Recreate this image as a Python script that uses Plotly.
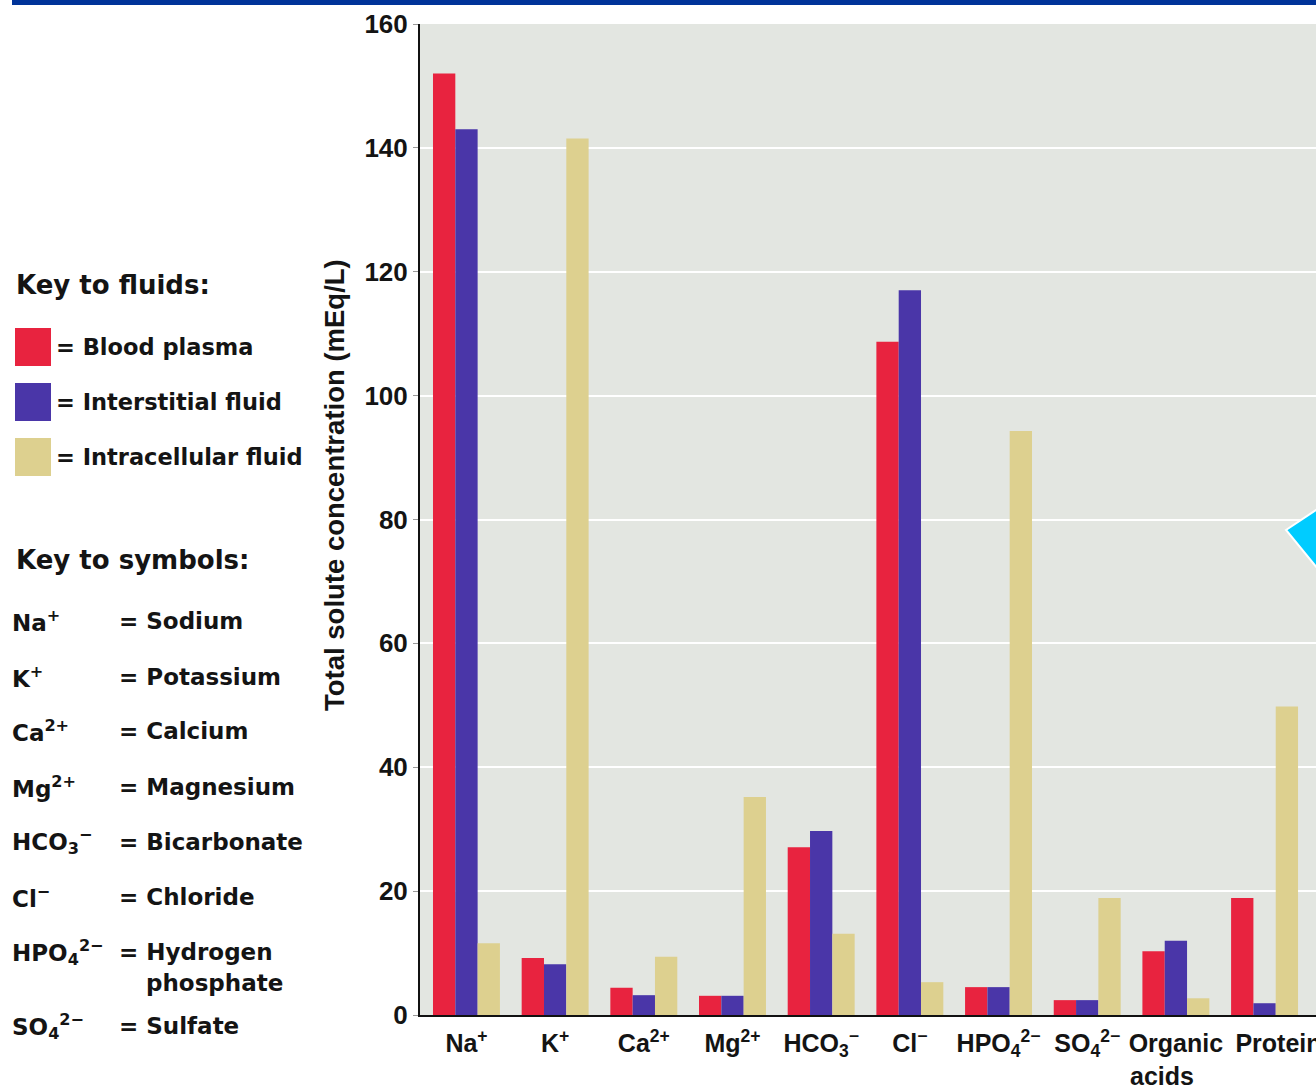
import plotly.graph_objects as go

# ---- data ----
NB = "\u00a0"
categories = ["Na+", "K+", "Ca2+", "Mg2+", "HCO3-", "Cl-", "HPO4 2-", "SO4 2-", "Organic acids", "Protein"]
tick_labels = ["Na<sup>+</sup>", "K<sup>+</sup>", "Ca<sup>2+</sup>", "Mg<sup>2+</sup>",
               "HCO<sub>3</sub><sup>−</sup>", "Cl<sup>−</sup>", "HPO<sub>4</sub><sup>2−</sup>",
               "SO<sub>4</sub><sup>2−</sup>", "Organic<br>acids" + NB * 4, NB * 4 + "Protein"]
blood_plasma = [152, 9.2, 4.4, 3.1, 27.1, 108.7, 4.5, 2.4, 10.3, 18.9]
interstitial = [143, 8.2, 3.2, 3.1, 29.7, 117, 4.5, 2.4, 12, 1.9]
intracellular = [11.6, 141.5, 9.4, 35.2, 13.1, 5.3, 94.3, 18.9, 2.7, 49.8]
y_ticks = [0, 20, 40, 60, 80, 100, 120, 140, 160]

fluid_names = ["Blood plasma", "Interstitial fluid", "Intracellular fluid"]
fluid_colors = ["#E8233F", "#4A36A8", "#DDD08F"]

symbol_keys = ["Na<sup>+</sup>", "K<sup>+</sup>", "Ca<sup>2+</sup>", "Mg<sup>2+</sup>",
               "HCO<sub>3</sub><sup>−</sup>", "Cl<sup>−</sup>", "HPO<sub>4</sub><sup>2−</sup>",
               "SO<sub>4</sub><sup>2−</sup>"]
symbol_names = ["= Sodium", "= Potassium", "= Calcium", "= Magnesium", "= Bicarbonate",
                "= Chloride", "= Hydrogen", "= Sulfate"]

# ---- layout geometry (pixels) ----
W, H = 1316, 1087
L, R, T, B = 420, 1316, 24, 1015


def px(x):
    return (x - L) / (R - L)


def py(y):
    return (B - y) / (B - T)


FONT = "Liberation Sans, Arial, sans-serif"
HEAVY = "DejaVu Sans, Liberation Sans, sans-serif"
INK = "#141414"

fig = go.Figure()
for name, vals, col in zip(fluid_names, [blood_plasma, interstitial, intracellular], fluid_colors):
    fig.add_trace(go.Bar(x=categories, y=vals, name=name, marker=dict(color=col, line=dict(width=0)),
                         showlegend=False))

fig.update_layout(
    width=W, height=H,
    margin=dict(l=L, r=W - R, t=T, b=H - B, pad=0, autoexpand=False),
    paper_bgcolor="white",
    plot_bgcolor="#E3E6E1",
    barmode="group",
    bargap=0.245,
    bargroupgap=0,
    font=dict(family=FONT, color=INK),
)

fig.update_xaxes(
    range=[-0.524, 9.58],
    tickvals=categories, ticktext=tick_labels, tickangle=0, automargin=False,
    tickfont=dict(family=FONT, size=25, color=INK, weight="bold"),
    showline=True, linecolor="#111111", linewidth=2,
    showgrid=False, ticks="", ticklabelstandoff=5,
)
fig.update_yaxes(
    range=[0, 160], tickvals=y_ticks, automargin=False,
    tickfont=dict(family=FONT, size=26, color=INK, weight="bold"),
    showline=True, linecolor="#111111", linewidth=2,
    showgrid=True, gridcolor="white", gridwidth=2,
    ticks="outside", ticklen=5, tickcolor="#999999", ticklabelstandoff=0,
    zeroline=False,
)

shapes = []
annotations = []

# top blue band
shapes.append(dict(type="rect", xref="paper", yref="paper", x0=px(12), x1=px(1320),
                   y0=py(5), y1=py(-2), fillcolor="#003399", line=dict(width=0), layer="above"))

# cyan marker at right edge
shapes.append(dict(type="path", xref="paper", yref="paper",
                   path=f"M {px(1286)},{py(530)} L {px(1340)},{py(494)} L {px(1340)},{py(596)} Z",
                   fillcolor="#00CCFF", line=dict(color="white", width=2), layer="above"))

# y-axis title
annotations.append(dict(xref="paper", yref="paper", x=px(335), y=py(485), text="Total solute concentration (mEq/L)",
                        textangle=-90, showarrow=False, xanchor="center", yanchor="middle",
                        font=dict(family=FONT, size=27.5, color=INK, weight="bold")))

# key to fluids
annotations.append(dict(xref="paper", yref="paper", x=px(14), y=py(285), text="Key to fluids:",
                        showarrow=False, xanchor="left", yanchor="middle",
                        font=dict(family=HEAVY, size=26, color=INK, weight="bold")))
sq_tops = [328, 383, 438]
for top, name, col in zip(sq_tops, fluid_names, fluid_colors):
    shapes.append(dict(type="rect", xref="paper", yref="paper", x0=px(15), x1=px(51),
                       y0=py(top + 38), y1=py(top), fillcolor=col, line=dict(width=0)))
    annotations.append(dict(xref="paper", yref="paper", x=px(54), y=py(top + 19), text="= " + name,
                            showarrow=False, xanchor="left", yanchor="middle",
                            font=dict(family=HEAVY, size=22.5, color=INK, weight="bold")))

# key to symbols
annotations.append(dict(xref="paper", yref="paper", x=px(14), y=py(560), text="Key to symbols:",
                        showarrow=False, xanchor="left", yanchor="middle",
                        font=dict(family=HEAVY, size=26, color=INK, weight="bold")))
row_y = [621, 677, 731, 787, 842, 897, 952, 1026]
for yy, key, nm in zip(row_y, symbol_keys, symbol_names):
    annotations.append(dict(xref="paper", yref="paper", x=px(10), y=py(yy), text=key,
                            showarrow=False, xanchor="left", yanchor="middle",
                            font=dict(family=HEAVY, size=23, color=INK, weight="bold")))
    annotations.append(dict(xref="paper", yref="paper", x=px(117), y=py(yy), text=nm,
                            showarrow=False, xanchor="left", yanchor="middle",
                            font=dict(family=HEAVY, size=23, color=INK, weight="bold")))
annotations.append(dict(xref="paper", yref="paper", x=px(144), y=py(983), text="phosphate",
                        showarrow=False, xanchor="left", yanchor="middle",
                        font=dict(family=HEAVY, size=23, color=INK, weight="bold")))

fig.update_layout(shapes=shapes, annotations=annotations)
fig.write_html("out.html", config={"displayModeBar": False},
               post_script="document.body.style.margin='0';document.documentElement.style.overflow='hidden';")
